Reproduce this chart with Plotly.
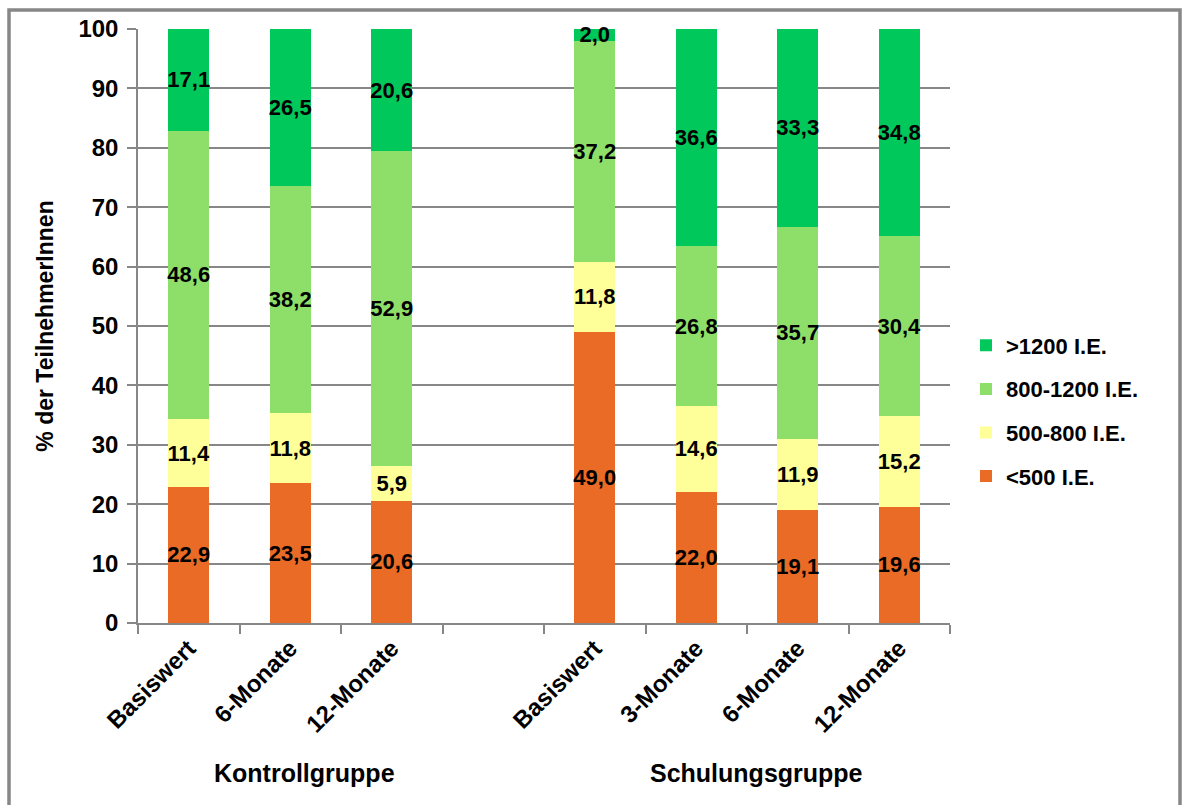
import plotly.graph_objects as go

# Category positions: a blank slot separates the two study groups
x_pos = [0, 1, 2, 4, 5, 6, 7]
x_labels = ["Basiswert", "6-Monate", "12-Monate",
            "Basiswert", "3-Monate", "6-Monate", "12-Monate"]
group_names = ["Kontrollgruppe", "Schulungsgruppe"]

# Share of participants (%) per intake class
lt500 = [22.9, 23.5, 20.6, 49.0, 22.0, 19.1, 19.6]
r500_800 = [11.4, 11.8, 5.9, 11.8, 14.6, 11.9, 15.2]
r800_1200 = [48.6, 38.2, 52.9, 37.2, 26.8, 35.7, 30.4]
gt1200 = [17.1, 26.5, 20.6, 2.0, 36.6, 33.3, 34.8]

series = [
    ("<500 I.E.", lt500, "#E96B25"),
    ("500-800 I.E.", r500_800, "#FFFF99"),
    ("800-1200 I.E.", r800_1200, "#8EDF6A"),
    (">1200 I.E.", gt1200, "#00C85A"),
]

FONT = "Arial, Liberation Sans, sans-serif"
GRAY = "#878787"


def de(v):
    return f"{v:.1f}".replace(".", ",")


fig = go.Figure()
for i, (name, vals, color) in enumerate(series):
    fig.add_trace(go.Bar(
        x=x_pos, y=vals, name=name, width=0.4,
        marker=dict(color=color, line=dict(width=0)),
        text=[de(v) for v in vals],
        textposition="inside", insidetextanchor="middle",
        textangle=0, constraintext="none",
        textfont=dict(family=FONT, size=22, color="black", weight="bold"),
        legendgroup=str(i), legendrank=len(series) - i,
        cliponaxis=False,
    ))

W, H = 1182, 805
L, R, T, B = 138, 232, 29, 182
pw, ph = W - L - R, H - T - B

fig.update_layout(
    width=W, height=H,
    margin=dict(l=L, r=R, t=T, b=B),
    barmode="stack",
    plot_bgcolor="white", paper_bgcolor="white",
    font=dict(family=FONT, color="black"),
    showlegend=True,
    legend=dict(
        traceorder="grouped", tracegroupgap=12,
        x=(966 - L) / pw, xanchor="left",
        y=(623 - 411) / ph, yanchor="middle",
        font=dict(family=FONT, size=22, color="black", weight="bold"),
        bgcolor="rgba(0,0,0,0)",
    ),
    xaxis=dict(
        range=[-0.5, 7.5],
        tickmode="array", tickvals=x_pos, ticktext=x_labels,
        tickangle=-45, ticks="", ticklen=0,
        tickfont=dict(family=FONT, size=24, color="black", weight="bold"),
        showline=True, linecolor=GRAY, linewidth=1.5,
        showgrid=False, zeroline=False,
        minor=dict(tickmode="array",
                   tickvals=[k - 0.5 for k in range(9)],
                   ticks="outside", ticklen=9, tickcolor=GRAY, tickwidth=1.5,
                   showgrid=False),
    ),
    yaxis=dict(
        range=[0, 100], tickmode="linear", tick0=0, dtick=10,
        ticks="outside", ticklen=9, tickcolor=GRAY, tickwidth=1.5,
        ticklabelstandoff=4,
        tickfont=dict(family=FONT, size=24, color="black", weight="bold"),
        showline=True, linecolor=GRAY, linewidth=1.5,
        showgrid=True, gridcolor=GRAY, gridwidth=1.5,
        zeroline=False,
        title=dict(text="% der TeilnehmerInnen", standoff=18,
                   font=dict(family=FONT, size=23, color="black", weight="bold")),
    ),
)

# Group captions beneath the category labels
for name, cx in zip(group_names, [304, 756]):
    fig.add_annotation(
        x=(cx - L) / pw, xref="paper", y=(623 - 773) / ph, yref="paper",
        text=name, showarrow=False, xanchor="center", yanchor="middle",
        font=dict(family=FONT, size=25, color="black", weight="bold"),
    )

# Chart frame
fig.add_shape(
    type="rect", xref="paper", yref="paper",
    x0=(9 - L) / pw, x1=(1180 - L) / pw,
    y0=(623 - 830) / ph, y1=(623 - 10) / ph,
    line=dict(color=GRAY, width=3.5), fillcolor="rgba(0,0,0,0)",
    layer="below",
)

fig.write_html("out.html")
